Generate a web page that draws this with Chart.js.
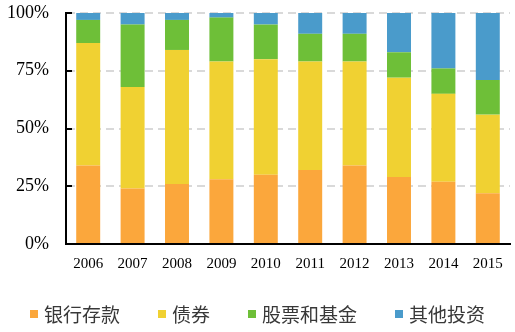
<!DOCTYPE html>
<html><head><meta charset="utf-8">
<script src="https://cdn.jsdelivr.net/npm/chart.js@4/dist/chart.umd.min.js"></script>
<style>html,body{margin:0;padding:0;background:#fff}#w{width:515px;height:332px}</style>
</head><body><div id="w"><canvas id="c"></canvas></div>
<script>
const years = ['2006','2007','2008','2009','2010','2011','2012','2013','2014','2015'];
const seriesNames = ['银行存款','债券','股票和基金','其他投资'];
const bankDeposits = [34,24,26,28,30,32,34,29,27,22];
const bonds        = [53,44,58,51,50,47,45,43,38,34];
const stocksFunds  = [10,27,13,19,15,12,12,11,11,15];
const otherInvest  = [3,5,3,2,5,9,9,17,24,29];
const yTicks = [0,25,50,75,100];
const colors = ['#FBA73C','#F0D132','#6EBF38','#4A9BCB'];

const innerTicks = {
  id:'innerTicks',
  afterDraw(chart){
    const y = chart.scales.y, ctx = chart.ctx, x0 = chart.chartArea.left;
    ctx.save(); ctx.strokeStyle='#000'; ctx.lineWidth=2;
    yTicks.forEach(v=>{ const p=Math.round(y.getPixelForValue(v)); ctx.beginPath(); ctx.moveTo(x0-1,p); ctx.lineTo(x0+6,p); ctx.stroke(); });
    ctx.restore();
  }
};

const customLegend = {
  id:'customLegend',
  afterDraw(chart){
    const ctx = chart.ctx, box = 8, gapText = 6, gapItem = 38, cy = 314;
    ctx.save();
    ctx.font = '19px "Noto Sans CJK SC"';
    ctx.textBaseline = 'middle';
    const items = chart.data.datasets.map(d=>({t:d.label,c:d.backgroundColor,w:ctx.measureText(d.label).width}));
    const total = items.reduce((s,it)=>s+box+gapText+it.w,0) + gapItem*(items.length-1);
    let x = Math.round((chart.width - total)/2);
    items.forEach(it=>{
      ctx.fillStyle = it.c; ctx.fillRect(x, cy-box/2, box, box);
      ctx.fillStyle = '#383838'; ctx.fillText(it.t, x+box+gapText, cy+1);
      x += box+gapText+it.w+gapItem;
    });
    ctx.restore();
  }
};

new Chart(document.getElementById('c'),{
  type:'bar',
  data:{labels:years,datasets:[bankDeposits,bonds,stocksFunds,otherInvest].map((d,i)=>({label:seriesNames[i],data:d,backgroundColor:colors[i],borderWidth:0}))},
  options:{
    responsive:true,maintainAspectRatio:false,animation:false,
    datasets:{bar:{categoryPercentage:1,barPercentage:0.54}},
    layout:{padding:{left:0,right:5,top:13,bottom:0}},
    plugins:{tooltip:{enabled:false},legend:{display:false}},
    scales:{
      x:{stacked:true,grid:{display:false},border:{color:'#000',width:2},
         afterFit(s){s.height=88;s.paddingLeft=0;s.paddingRight=0;},
         ticks:{color:'#000',font:{family:'"Liberation Serif"',size:15},padding:3,maxRotation:0}},
      y:{stacked:true,min:0,max:100,
         afterFit(s){s.width=66;s.paddingTop=0;s.paddingBottom=0;},
         afterBuildTicks(s){s.ticks=yTicks.map(v=>({value:v}));},
         grid:{color:'#D9D9D9',lineWidth:2,drawTicks:false},
         border:{color:'#000',width:2,dash:[8,5]},
         ticks:{color:'#000',font:{family:'"Liberation Serif"',size:18},padding:17,callback:v=>v+'%'}}
    }
  },
  plugins:[innerTicks,customLegend]
});
</script></body></html>
